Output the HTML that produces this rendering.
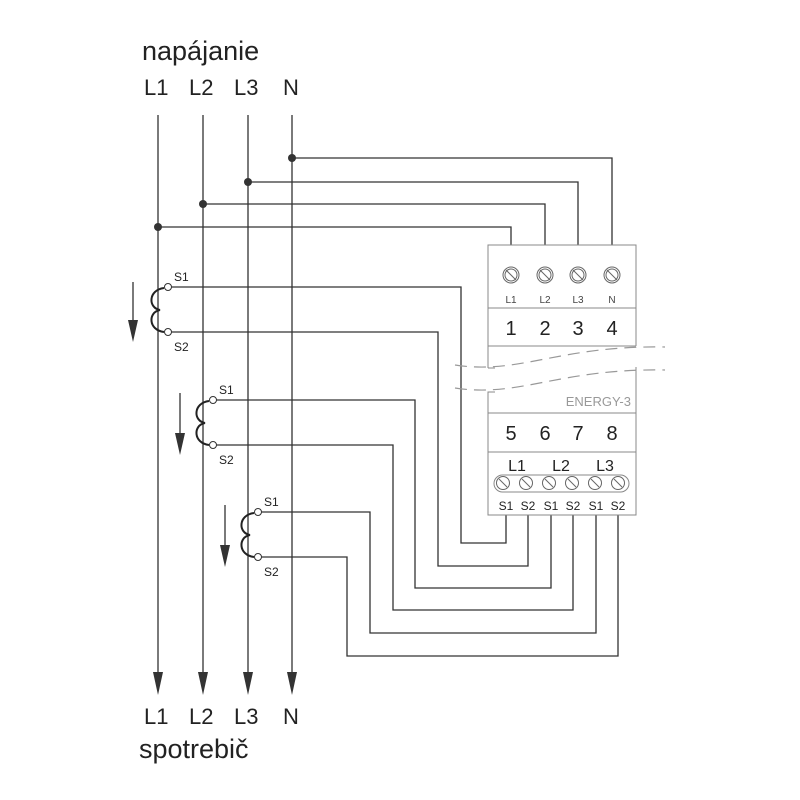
<!DOCTYPE html>
<html><head><meta charset="utf-8"><style>
html,body{margin:0;padding:0;background:#fff;}
svg{display:block;}
text{font-family:"Liberation Sans",sans-serif;fill:#222;}
</style></head><body>
<svg width="800" height="800" viewBox="0 0 800 800" xmlns="http://www.w3.org/2000/svg">
<text x="142" y="60" font-size="27">napájanie</text>
<g font-size="22">
<text x="144" y="95">L1</text><text x="189" y="95">L2</text><text x="234" y="95">L3</text><text x="283" y="95">N</text>
<text x="144" y="724">L1</text><text x="189" y="724">L2</text><text x="234" y="724">L3</text><text x="283" y="724">N</text>
</g>
<text x="139" y="758" font-size="27">spotrebič</text>

<g stroke="#333" stroke-width="1.3" fill="none">
<line x1="158" y1="115" x2="158" y2="675"/>
<line x1="203" y1="115" x2="203" y2="675"/>
<line x1="248" y1="115" x2="248" y2="675"/>
<line x1="292" y1="115" x2="292" y2="675"/>
<polyline points="292,158 612,158 612,245"/>
<polyline points="248,182 578,182 578,245"/>
<polyline points="203,204 545,204 545,245"/>
<polyline points="158,227 511,227 511,245"/>
<!-- CT wires -->
<polyline points="171,287 461,287 461,543 506,543 506,515"/>
<polyline points="171,332 438,332 438,566 528,566 528,515"/>
<polyline points="216,400 415,400 415,588 551,588 551,515"/>
<polyline points="216,445 393,445 393,610 573,610 573,515"/>
<polyline points="261,512 370,512 370,633 596,633 596,515"/>
<polyline points="261,557 347,557 347,656 618,656 618,515"/>
<!-- arrows shafts -->
<line x1="133" y1="282" x2="133" y2="325"/>
<line x1="180" y1="393" x2="180" y2="437"/>
<line x1="225" y1="505" x2="225" y2="550"/>
</g>
<g fill="#333">
<polygon points="153,672 163,672 158,695"/>
<polygon points="198,672 208,672 203,695"/>
<polygon points="243,672 253,672 248,695"/>
<polygon points="287,672 297,672 292,695"/>
<polygon points="128,320 138,320 133,342"/>
<polygon points="175,433 185,433 180,455"/>
<polygon points="220,545 230,545 225,567"/>
<circle cx="292" cy="158" r="4"/><circle cx="248" cy="182" r="4"/><circle cx="203" cy="204" r="4"/><circle cx="158" cy="227" r="4"/>
</g>
<!-- CT coils -->
<g stroke="#222" stroke-width="2" fill="none">
<path d="M164,288 C148,290 148,308 160,310 C148,312 148,330 164,332"/>
<path d="M209,401 C193,403 193,421 205,423 C193,425 193,443 209,445"/>
<path d="M254,513 C238,515 238,533 250,535 C238,537 238,555 254,557"/>
</g>
<g stroke="#333" stroke-width="1" fill="#fff">
<circle cx="168" cy="287" r="3.5"/><circle cx="168" cy="332" r="3.5"/>
<circle cx="213" cy="400" r="3.5"/><circle cx="213" cy="445" r="3.5"/>
<circle cx="258" cy="512" r="3.5"/><circle cx="258" cy="557" r="3.5"/>
</g>
<g font-size="12">
<text x="174" y="281">S1</text><text x="174" y="351">S2</text>
<text x="219" y="394">S1</text><text x="219" y="464">S2</text>
<text x="264" y="506">S1</text><text x="264" y="576">S2</text>
</g>
<!-- device -->
<g stroke="#888" stroke-width="1" fill="none">
<polyline points="488,368 488,245 636,245 636,346"/>
<line x1="488" y1="368" x2="495" y2="368"/>
<line x1="488" y1="308" x2="636" y2="308"/>
<line x1="488" y1="346" x2="636" y2="346"/>
<polyline points="495,392 488,392 488,515 636,515 636,367"/>
<line x1="488" y1="413" x2="636" y2="413"/>
<line x1="488" y1="452" x2="636" y2="452"/>
<rect x="494" y="475" width="135" height="17" rx="8.5"/>
</g>
<g stroke="#999" stroke-width="1.2" fill="none" stroke-dasharray="12,7">
<path d="M455,365 C520,375 560,345 665,347"/>
<path d="M455,388 C520,398 560,368 665,370"/>
</g>
<g stroke="#666" stroke-width="1" fill="none">
<circle cx="511" cy="275" r="8"/><circle cx="511" cy="275" r="6"/><line x1="506" y1="270" x2="516" y2="280"/>
<circle cx="545" cy="275" r="8"/><circle cx="545" cy="275" r="6"/><line x1="540" y1="270" x2="550" y2="280"/>
<circle cx="578" cy="275" r="8"/><circle cx="578" cy="275" r="6"/><line x1="573" y1="270" x2="583" y2="280"/>
<circle cx="612" cy="275" r="8"/><circle cx="612" cy="275" r="6"/><line x1="607" y1="270" x2="617" y2="280"/>
<circle cx="503" cy="483" r="6.5"/><line x1="499" y1="479" x2="507" y2="487"/>
<circle cx="526" cy="483" r="6.5"/><line x1="522" y1="479" x2="530" y2="487"/>
<circle cx="549" cy="483" r="6.5"/><line x1="545" y1="479" x2="553" y2="487"/>
<circle cx="572" cy="483" r="6.5"/><line x1="568" y1="479" x2="576" y2="487"/>
<circle cx="595" cy="483" r="6.5"/><line x1="591" y1="479" x2="599" y2="487"/>
<circle cx="618" cy="483" r="6.5"/><line x1="614" y1="479" x2="622" y2="487"/>
</g>
<g font-size="10" fill="#444" text-anchor="middle">
<text x="511" y="303" style="fill:#444">L1</text><text x="545" y="303" style="fill:#444">L2</text><text x="578" y="303" style="fill:#444">L3</text><text x="612" y="303" style="fill:#444">N</text>
</g>
<g font-size="20" text-anchor="middle">
<text x="511" y="335">1</text><text x="545" y="335">2</text><text x="578" y="335">3</text><text x="612" y="335">4</text>
<text x="511" y="440">5</text><text x="545" y="440">6</text><text x="578" y="440">7</text><text x="612" y="440">8</text>
</g>
<text x="631" y="406" font-size="13" text-anchor="end" style="fill:#999">ENERGY-3</text>
<g font-size="16" text-anchor="middle">
<text x="517" y="471">L1</text><text x="561" y="471">L2</text><text x="605" y="471">L3</text>
</g>
<g font-size="12" text-anchor="middle">
<text x="506" y="510">S1</text><text x="528" y="510">S2</text><text x="551" y="510">S1</text><text x="573" y="510">S2</text><text x="596" y="510">S1</text><text x="618" y="510">S2</text>
</g>
</svg>
</body></html>
